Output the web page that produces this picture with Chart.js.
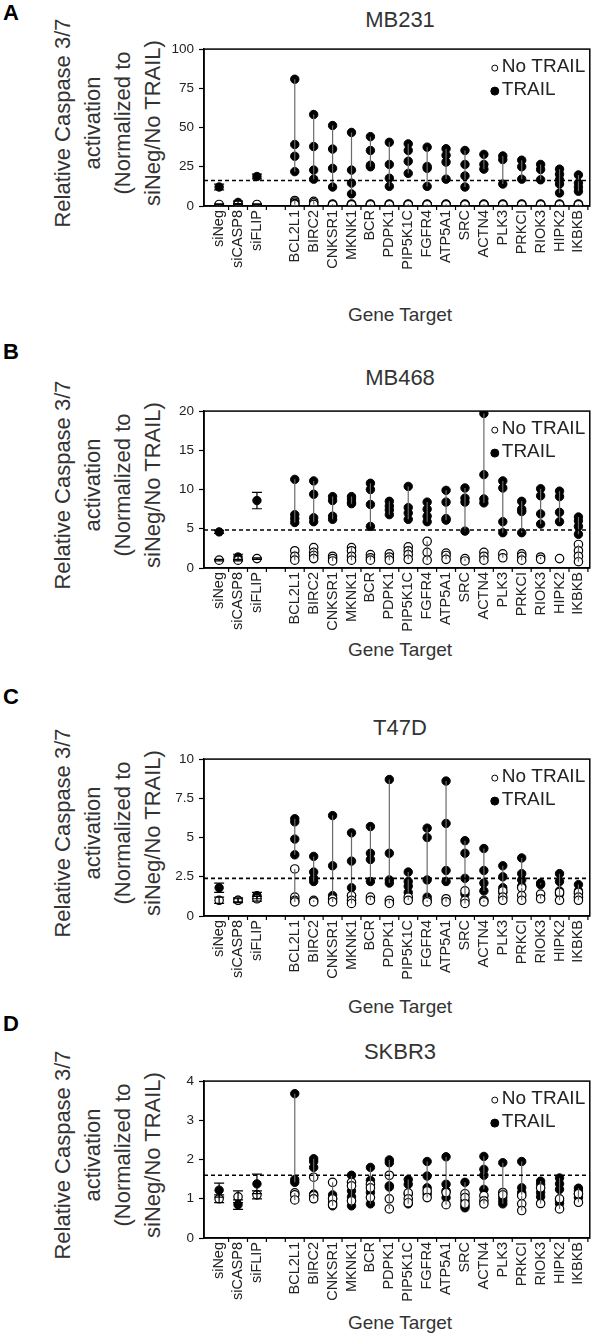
<!DOCTYPE html>
<html><head><meta charset="utf-8">
<script src="https://cdn.jsdelivr.net/npm/chart.js@4.4.1/dist/chart.umd.min.js"></script>
<style>
body{margin:0;background:#fff;}
#wrap{position:relative;width:600px;height:1335px;overflow:hidden;font-family:'Liberation Sans',Arial,sans-serif;color:#333;}
.t{position:absolute;white-space:nowrap;}
.ytitle{position:absolute;width:300px;height:120px;line-height:30px;font-size:22px;text-align:center;transform:rotate(-90deg);transform-origin:50% 50%;color:#333;}
canvas{position:absolute;left:0;}
</style></head><body><div id="wrap"></div>
<script>
// ---- categories / tick labels ----
const X_LABELS = ['siNeg','siCASP8','siFLIP','','BCL2L1','BIRC2','CNKSR1','MKNK1','BCR','PDPK1','PIP5K1C','FGFR4','ATP5A1','SRC','ACTN4','PLK3','PRKCI','RIOK3','HIPK2','IKBKB'];
const CONTROLS = ['siNeg','siCASP8','siFLIP'];
const GENES = ['BCL2L1','BIRC2','CNKSR1','MKNK1','BCR','PDPK1','PIP5K1C','FGFR4','ATP5A1','SRC','ACTN4','PLK3','PRKCI','RIOK3','HIPK2','IKBKB'];
const SERIES = ['No TRAIL','TRAIL'];

// ---- MB231 ----
const MB231_THRESHOLD = 16.3;
const MB231_CTRL_TRAIL = [12.1, 2.3, 18.8];
const MB231_CTRL_TRAIL_ERR = [1.8, 0.8, 1.5];
const MB231_CTRL_NOTRAIL = [1.0, 1.0, 1.0];
const MB231_CTRL_NOTRAIL_ERR = [0.3, 0.3, 0.3];
const MB231_TRAIL = [
 [80.8,39.2,31.7,21.9],[58.3,37.9,22.9,17.1],[51.3,36.3,24.0,12.1],[46.9,22.9,14.6,7.7],
 [44.2,35.4,26.0,25.0],[40.6,26.5,17.7,12.5],[39.6,35.4,28.5,20.8],[37.5,25.2,24.0,12.5],
 [36.5,32.3,28.0,17.1],[35.4,26.5,19.2,12.1],[32.9,26.5,23.5],[31.9,29.6,14.0],
 [29.2,25.0,17.1],[26.5,23.3,16.7],[23.5,20.2,16.7,14.0,8.3],[19.8,14.6,12.0,9.4]];
const MB231_NOTRAIL = [
 [3.5,2.5,1.5,1.0],[3.0,2.0,1.0],[1.2,1.0,0.8],[1.2,1.0,0.8],[1.2,1.0,0.8],[1.2,1.0,0.8],
 [1.2,1.0,0.8],[1.2,1.0,0.8],[1.2,1.0,0.8],[1.2,1.0,0.8],[1.2,1.0,0.8],[1.2,1.0,0.8],
 [1.2,1.0,0.8],[1.2,1.0,0.8],[1.2,1.0,0.8],[1.2,1.0,0.8]];

// ---- MB468 ----
const MB468_THRESHOLD = 4.85;
const MB468_CTRL_TRAIL = [4.6, 1.4, 8.6];
const MB468_CTRL_TRAIL_ERR = [0.2, 0.35, 1.05];
const MB468_CTRL_NOTRAIL = [1.0, 1.0, 1.2];
const MB468_CTRL_NOTRAIL_ERR = [0.1, 0.1, 0.1];
const MB468_TRAIL = [
 [11.3,6.8,6.3,5.8],[11.1,9.4,6.4,5.9],[9.1,8.6,6.6,6.2],[9.1,8.8,8.4,8.2],
 [10.8,10.0,8.1,5.3],[8.5,7.9,7.4,6.8],[10.4,7.7,7.0,6.2],[8.4,7.5,6.6,5.9],
 [9.9,8.4,6.3,6.1],[10.2,8.9,8.4,4.7],[19.7,11.9,8.8,8.3],[11.1,10.2,5.9,4.5],
 [8.5,7.5,7.2,4.5],[10.1,9.2,6.9,5.6],[9.8,9.1,7.1,5.9],[6.5,6.0,5.3,4.3]];
const MB468_NOTRAIL = [
 [2.2,1.5,1.0],[2.6,2.0,1.6,1.2],[1.5,1.2,0.9],[2.6,2.2,1.5,1.0],
 [1.7,1.3,1.0],[1.8,1.4,1.0],[2.7,2.2,1.7,1.1],[3.4,2.0,1.0],
 [1.9,1.6,1.1],[1.2,0.9],[2.0,1.5,1.0],[1.8,1.3],
 [1.8,1.5,1.0],[1.4,1.1],[1.2],[3.0,2.2,1.5,0.8]];

// ---- T47D ----
const T47D_THRESHOLD = 2.4;
const T47D_CTRL_TRAIL = [1.8, 1.0, 1.3];
const T47D_CTRL_TRAIL_ERR = [0.3, 0.15, 0.2];
const T47D_CTRL_NOTRAIL = [1.0, 1.0, 1.1];
const T47D_CTRL_NOTRAIL_ERR = [0.2, 0.1, 0.15];
const T47D_TRAIL = [
 [6.2,6.0,4.9,3.9],[3.8,2.8,2.4,2.2],[6.4,3.2,1.3],[5.3,3.5,1.8,1.3],
 [5.7,4.0,3.6,2.2],[8.7,4.0,2.3,2.1],[2.8,2.2,1.9,1.5],[5.6,5.0,2.3,1.2],
 [8.6,5.9,2.9,2.2],[4.8,4.0,2.4,1.4],[4.3,2.9,2.1,1.6],[3.2,2.5,1.8,1.5],
 [3.7,2.7,2.3,1.9],[2.1,2.0],[2.7,2.2,1.6,1.4],[2.0,1.6,1.4,1.2]];
const T47D_NOTRAIL = [
 [3.0,1.2,1.0,0.9],[1.0,0.9],[1.1,0.9],[1.3,1.0,0.8],
 [1.2,1.0],[1.0,0.8],[1.2,1.0],[1.0,0.9],
 [1.1,0.9],[1.6,1.0,0.8],[1.0,0.9],[1.6,1.2,1.0],
 [1.8,1.3,1.0],[1.4,1.1],[1.5,1.0],[1.5,1.2,1.0]];

// ---- SKBR3 ----
const SKBR3_THRESHOLD = 1.6;
const SKBR3_CTRL_TRAIL = [1.22, 0.85, 1.38];
const SKBR3_CTRL_TRAIL_ERR = [0.18, 0.12, 0.25];
const SKBR3_CTRL_NOTRAIL = [1.0, 1.05, 1.1];
const SKBR3_CTRL_NOTRAIL_ERR = [0.1, 0.15, 0.1];
const SKBR3_TRAIL = [
 [3.68,1.49,1.42],[2.02,1.95,1.8,1.12],[1.1,1.0,0.9,0.82],[1.6,1.2,1.05,0.82],
 [1.8,1.47,1.16,0.87],[1.99,1.92,1.33,1.3],[1.49,1.37,1.12,0.87],[1.95,1.58,1.28,1.12],
 [2.07,1.37,1.2,1.03],[1.42,0.95,0.82,0.77],[2.08,1.75,1.6,1.24],[1.92,1.03,0.95,0.87],
 [1.95,1.28,1.16,1.1],[1.45,1.37,1.16,1.05],[1.53,1.38,1.24,0.95,0.88],[1.27,1.2,1.12,1.03]];
const SKBR3_NOTRAIL = [
 [1.15,1.1,0.97],[1.55,1.08,1.0],[1.42,1.0,0.85],[1.42,1.33,0.95],
 [1.37,1.28,1.03],[1.6,1.0,0.74],[1.15,1.0,0.9],[1.2,1.03],
 [1.16,0.85],[1.13,1.03,0.87],[1.08,0.95,0.87],[1.16,1.1],
 [1.08,0.87,0.7],[1.28,0.88],[1.0,0.74],[1.13,0.91]];

// ---- layout (not data) ----
const X_MIN = -0.8, X_MAX = 19.6;
const PANELS = [
 {letter:'A', title:'MB231', plotTop:46, titleY:20, geneY:315, letterY:13, yMax:100, yStep:25,
  thr:MB231_THRESHOLD, trail:MB231_TRAIL, noTrail:MB231_NOTRAIL, cT:MB231_CTRL_TRAIL, cTE:MB231_CTRL_TRAIL_ERR, cN:MB231_CTRL_NOTRAIL, cNE:MB231_CTRL_NOTRAIL_ERR},
 {letter:'B', title:'MB468', plotTop:408, titleY:378, geneY:650, letterY:352, yMax:20, yStep:5,
  thr:MB468_THRESHOLD, trail:MB468_TRAIL, noTrail:MB468_NOTRAIL, cT:MB468_CTRL_TRAIL, cTE:MB468_CTRL_TRAIL_ERR, cN:MB468_CTRL_NOTRAIL, cNE:MB468_CTRL_NOTRAIL_ERR},
 {letter:'C', title:'T47D', plotTop:756, titleY:728, geneY:1007, letterY:697, yMax:10, yStep:2.5,
  thr:T47D_THRESHOLD, trail:T47D_TRAIL, noTrail:T47D_NOTRAIL, cT:T47D_CTRL_TRAIL, cTE:T47D_CTRL_TRAIL_ERR, cN:T47D_CTRL_NOTRAIL, cNE:T47D_CTRL_NOTRAIL_ERR},
 {letter:'D', title:'SKBR3', plotTop:1078, titleY:1052, geneY:1323, letterY:1024, yMax:4, yStep:1,
  thr:SKBR3_THRESHOLD, trail:SKBR3_TRAIL, noTrail:SKBR3_NOTRAIL, cT:SKBR3_CTRL_TRAIL, cTE:SKBR3_CTRL_TRAIL_ERR, cN:SKBR3_CTRL_NOTRAIL, cNE:SKBR3_CTRL_NOTRAIL_ERR}
];

Chart.defaults.font.family = "'Liberation Sans', Arial, sans-serif";
const FONT = "'Liberation Sans', Arial, sans-serif";
const idx = name => X_LABELS.indexOf(name);

function genePoints(lists){
  const out = [];
  GENES.forEach((g,i)=>{ (lists[i]||[]).forEach(v=>out.push({x:idx(g), y:v})); });
  return out;
}
function ctrlPoints(vals){ return CONTROLS.map((c,i)=>({x:idx(c), y:vals[i]})); }
function connectors(lists){
  const out = [];
  GENES.forEach((g,i)=>{
    const a = lists[i];
    if (a && a.length > 1){
      out.push({x:idx(g), y:Math.max(...a)}, {x:idx(g), y:Math.min(...a)}, {x:idx(g), y:null});
    }
  });
  return out;
}

const panelPlugin = {
  id:'panelDeco',
  afterDatasetsDraw(chart){
    const p = chart.options.plugins.panelDeco.panel;
    const {ctx} = chart; const xs = chart.scales.x, ys = chart.scales.y;
    ctx.save(); ctx.strokeStyle = '#000'; ctx.lineWidth = 1.2;
    const bars = [[p.cN,p.cNE],[p.cT,p.cTE]];
    bars.forEach(([vals,errs])=>{
      CONTROLS.forEach((c,i)=>{
        const px = xs.getPixelForValue(idx(c));
        const y1 = ys.getPixelForValue(vals[i]+errs[i]);
        const y2 = ys.getPixelForValue(Math.max(0, vals[i]-errs[i]));
        ctx.beginPath();
        ctx.moveTo(px, y1); ctx.lineTo(px, y2);
        ctx.moveTo(px-5, y1); ctx.lineTo(px+5, y1);
        ctx.moveTo(px-5, y2); ctx.lineTo(px+5, y2);
        ctx.stroke();
      });
    });
    ctx.restore();
  },
  afterDraw(chart){
    const {ctx, chartArea:a} = chart; const xs = chart.scales.x;
    ctx.save();
    ctx.strokeStyle = '#000'; ctx.lineWidth = 1.5;
    ctx.strokeRect(a.left, a.top, a.right-a.left, a.bottom-a.top);
    ctx.lineWidth = 1.2;
    ctx.beginPath();
    for (let i=0;i<X_LABELS.length;i++){
      const px = xs.getPixelForValue(i+0.5);
      if (px < a.right-1){ ctx.moveTo(px, a.bottom); ctx.lineTo(px, a.bottom+4); }
    }
    ctx.stroke();
    // legend
    const ds = chart.data.datasets;
    const items = [ds[2], ds[3]];
    items.forEach((d,k)=>{
      const cy = a.top + 18 + k*23;
      const mx = a.right - 95;
      ctx.beginPath();
      ctx.arc(mx, cy+1, k===0?3:4, 0, Math.PI*2);
      ctx.fillStyle = d.backgroundColor; ctx.fill();
      ctx.lineWidth = 1; ctx.strokeStyle = d.borderColor; ctx.stroke();
      ctx.fillStyle = '#222';
      ctx.font = '19px ' + FONT;
      ctx.textBaseline = 'middle'; ctx.textAlign = 'left';
      ctx.fillText(d.label, a.right - 88, cy);
    });
    ctx.restore();
  }
};

const wrap = document.getElementById('wrap');
const PAD_TOP = 10, PLOT_H = 160, XAX_H = 80, Y_W = 204;

PANELS.forEach(p=>{
  const add = (cls, text, style) => { const d = document.createElement('div'); d.className = cls; d.textContent = text; Object.assign(d.style, style); wrap.appendChild(d); return d; };
  add('t', p.letter, {left:'3px', top:(p.letterY-13)+'px', fontSize:'22px', fontWeight:'bold', color:'#000', lineHeight:'26px'});
  add('t', p.title, {left:'300px', width:'200px', textAlign:'center', top:(p.titleY-13)+'px', fontSize:'22px', lineHeight:'26px', color:'#333'});
  add('t', 'Gene Target', {left:'300px', width:'200px', textAlign:'center', top:(p.geneY-11)+'px', fontSize:'19px', lineHeight:'22px', color:'#333'});
  const yt = document.createElement('div');
  yt.className = 'ytitle';
  yt.innerHTML = 'Relative Caspase 3/7<br>activation<br>(Normalized to<br>siNeg/No TRAIL)';
  const cx = 108, cy = p.plotTop + PLOT_H/2 - 3;
  yt.style.left = (cx-150)+'px'; yt.style.top = (cy-60)+'px';
  wrap.appendChild(yt);

  const cv = document.createElement('canvas');
  cv.width = 600; cv.height = PAD_TOP + PLOT_H + XAX_H;
  cv.style.top = (p.plotTop - PAD_TOP) + 'px';
  wrap.appendChild(cv);

  new Chart(cv, {
    type:'scatter',
    data:{ datasets:[
      {label:'threshold', data:[{x:X_MIN,y:p.thr},{x:X_MAX,y:p.thr}], showLine:true, borderColor:'#000', borderWidth:1.6, borderDash:[4,3], pointRadius:0},
      {label:'range', data:[...connectors(p.trail), ...connectors(p.noTrail)], showLine:true, spanGaps:false, borderColor:'#6a6a6a', borderWidth:1.2, pointRadius:0},
      {label:SERIES[0], data:[...ctrlPoints(p.cN), ...genePoints(p.noTrail)], pointStyle:'circle', pointRadius:4.2, backgroundColor:'#fff', borderColor:'#000', borderWidth:1.2},
      {label:SERIES[1], data:[...ctrlPoints(p.cT), ...genePoints(p.trail)], pointStyle:'circle', pointRadius:4.2, backgroundColor:'#000', borderColor:'#000', borderWidth:1}
    ]},
    options:{
      responsive:false, animation:false, devicePixelRatio:1, events:[],
      layout:{padding:{top:PAD_TOP, right:4, left:0, bottom:0}},
      plugins:{legend:{display:false}, tooltip:{enabled:false}, panelDeco:{panel:p}},
      scales:{
        x:{type:'linear', min:X_MIN, max:X_MAX,
           afterBuildTicks(s){ s.ticks = X_LABELS.map((l,i)=>({value:i})).filter(t=>X_LABELS[t.value]); },
           afterFit(s){ s.height = XAX_H; },
           ticks:{autoSkip:false, maxRotation:90, minRotation:90, padding:4, font:{size:14.5}, color:'#222', callback:v=>X_LABELS[v]||''},
           grid:{display:true, drawOnChartArea:false, drawTicks:false},
           border:{display:true, color:'#000', width:1.5}},
        y:{min:0, max:p.yMax,
           afterBuildTicks(s){ const t=[]; for(let v=0; v<=p.yMax+1e-9; v+=p.yStep) t.push({value:v}); s.ticks=t; },
           afterFit(s){ s.width = Y_W; },
           ticks:{font:{size:13.5}, color:'#222', padding:5},
           grid:{display:true, drawOnChartArea:false, drawTicks:true, tickLength:5, tickColor:'#000', tickWidth:1.2},
           border:{display:true, color:'#000', width:1.5}}
      }
    },
    plugins:[panelPlugin]
  });
});
</script></body></html>
